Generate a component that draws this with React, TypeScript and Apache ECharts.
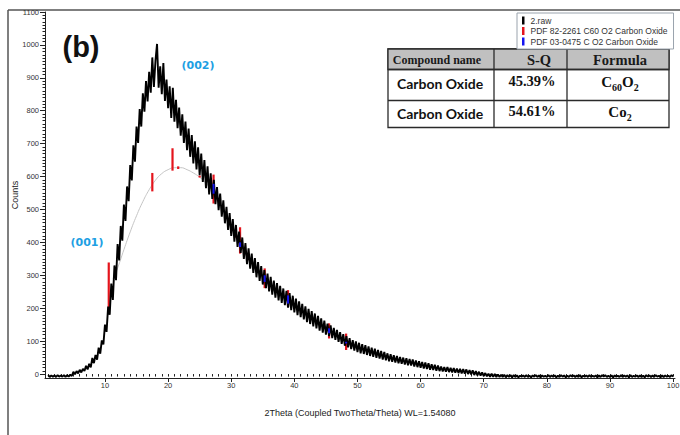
import React, { useEffect, useRef } from "react";
import * as echarts from "echarts";

// Raw XRD scan: counts sampled on a uniform 2θ grid (one row per degree)
const TWO_THETA_START = 1.0;
const TWO_THETA_STEP = 0.25;
const RAW_COUNTS = [
  -3, -9, -4, -8,
  -4, -9, -3, -8,
  -4, -8, -3, -9,
  -3, -8, -2, -6,
  7, -1, 9, 2,
  13, 5, 16, 9,
  25, 14, 31, 20,
  49, 33, 58, 44,
  80, 62, 102, 90,
  150, 128, 205, 180,
  275, 225, 330, 285,
  395, 345, 450, 405,
  515, 465, 570, 525,
  635, 588, 695, 645,
  752, 702, 805, 752,
  853, 797, 890, 828,
  918, 855, 962, 872,
  952, 1003, 870, 935,
  850, 945, 830, 895,
  808, 874, 778, 870,
  767, 833, 747, 810,
  724, 789, 702, 767,
  680, 746, 660, 726,
  640, 707, 622, 689,
  604, 670, 584, 650,
  565, 631, 546, 610,
  532, 590, 516, 568,
  498, 548, 478, 528,
  458, 508, 438, 489,
  420, 471, 402, 453,
  386, 433, 368, 415,
  350, 398, 334, 382,
  320, 366, 307, 352,
  294, 340, 283, 328,
  272, 316, 261, 305,
  251, 295, 241, 284,
  232, 276, 224, 268,
  216, 260, 209, 253,
  202, 246, 194, 238,
  187, 229, 179, 221,
  173, 213, 166, 206,
  158, 198, 152, 191,
  145, 184, 139, 177,
  132, 169, 126, 162,
  120, 153, 115, 148,
  109, 140, 104, 134,
  98, 127, 92, 121,
  86, 115, 81, 109,
  76, 103, 71, 99,
  67, 95, 63, 91,
  61, 88, 58, 84,
  55, 80, 52, 77,
  49, 73, 47, 70,
  44, 67, 42, 63,
  39, 60, 37, 57,
  35, 55, 33, 52,
  31, 50, 29, 48,
  27, 46, 26, 44,
  23, 41, 21, 39,
  19, 37, 17, 35,
  15, 33, 13, 30,
  12, 28, 10, 26,
  9, 23, 8, 21,
  7, 21, 6, 19,
  5, 18, 4, 17,
  3, 16, 2, 15,
  1, 14, 0, 12,
  -1, 11, -3, 9,
  -4, 7, -5, 5,
  -6, 3, -7, 1,
  -8, 1, -8, 0,
  -9, -1, -9, -2,
  -9, -2, -10, -3,
  -9, -3, -10, -3,
  -9, -4, -10, -5,
  -8, -4, -9, -3,
  -9, -5, -10, -4,
  -8, -3, -9, -4,
  -10, -4, -8, -5,
  -9, -3, -9, -4,
  -8, -4, -10, -5,
  -9, -3, -8, -4,
  -10, -5, -9, -3,
  -8, -4, -9, -4,
  -9, -3, -10, -5,
  -8, -4, -9, -3,
  -9, -5, -8, -4,
  -10, -4, -9, -3,
  -8, -3, -9, -5,
  -9, -4, -10, -4,
  -8, -5, -9, -3,
  -9, -4, -8, -4,
  -10, -3, -9, -5,
  -8, -4, -9, -4,
  -9, -5, -10, -3,
  -8, -4, -9, -4,
  -9, -3, -8, -5,
  -10, -4, -9, -4,
  -8, -5, -9, -3,
  -8,
];

// Fitted amorphous background hump
const BACKGROUND_2THETA = [11.3, 12, 13, 14, 15, 16, 17, 18, 19, 20, 21, 22, 23, 24, 25, 26, 27];
const BACKGROUND_COUNTS = [290, 322, 378, 432, 481, 524, 560, 589, 609, 621, 627, 627, 621, 611, 598, 580, 558];

// Reference pattern sticks: [2θ, bottom count, top count]
const PDF_82_2261 = [
  [10.6, 203, 339],
  [17.5, 555, 611],
  [20.7, 618, 686],
  [21.6, 623, 631],
  [25.0, 597, 603],
  [27.2, 518, 606],
  [28.1, 514, 522],
  [30.8, 414, 422],
  [31.4, 366, 446],
  [32.7, 346, 354],
  [35.3, 261, 321],
  [39.0, 204, 255],
  [45.5, 108, 154],
  [48.2, 73, 123],
];
const PDF_03_0475 = [
  [27.2, 548, 578],
  [31.4, 386, 400],
  [35.3, 280, 300],
  [39.0, 214, 239],
  [45.5, 124, 139],
  [48.2, 93, 98],
];

const Y_TICKS = [0, 100, 200, 300, 400, 500, 600, 700, 800, 900, 1000, 1100];
const X_TICKS = [10, 20, 30, 40, 50, 60, 70, 80, 90, 100];

const SERIES_NAMES = ["2.raw", "PDF 82-2261 C60 O2 Carbon Oxide", "PDF 03-0475 C O2 Carbon Oxide"];

const TABLE_HEADER = ["Compound name", "S-Q", "Formula"];
const TABLE_NAMES = ["Carbon Oxide", "Carbon Oxide"];
const TABLE_SQ = ["45.39%", "54.61%"];
const TABLE_FORMULAS = ["{m|C}{s|60}{m|O}{s|2}", "{m|Co}{s|2}"];

const SANS = "'Liberation Sans', Arial, sans-serif";
const SERIF = "'Liberation Serif', 'Times New Roman', serif";

const Y_MINOR: number[] = [];
for (let v = 0; v <= 1100; v += 10) Y_MINOR.push(v);
const X_MINOR: number[] = [];
for (let v = 1; v <= 100; v += 1) X_MINOR.push(v);

function stickSeries(name: string, data: number[][], color: string, width: number, z: number) {
  return {
    type: "custom",
    name,
    data,
    z,
    itemStyle: { color },
    encode: { x: 0, y: [1, 2] },
    renderItem: (_params: any, api: any) => {
      const a = api.coord([api.value(0), api.value(1)]);
      const b = api.coord([api.value(0), api.value(2)]);
      return {
        type: "line",
        shape: { x1: a[0], y1: a[1], x2: b[0], y2: b[1] },
        style: { stroke: color, lineWidth: width },
      };
    },
  };
}

function buildTable() {
  const xs = [388, 494, 567, 669];
  const ys = [49, 69.5, 100.5, 127.5];
  const border = { stroke: "#2a2a2a", lineWidth: 1.3 };
  const els: any[] = [];
  els.push({ type: "rect", shape: { x: xs[0], y: ys[0], width: xs[3] - xs[0], height: ys[3] - ys[0] }, style: { fill: "#fff", ...border } });
  els.push({ type: "rect", shape: { x: xs[0], y: ys[0], width: xs[3] - xs[0], height: ys[1] - ys[0] }, style: { fill: "#c0c0c0", ...border } });
  for (const y of [ys[1], ys[2]]) {
    els.push({ type: "line", shape: { x1: xs[0], y1: y, x2: xs[3], y2: y }, style: border });
  }
  for (const x of [xs[1], xs[2]]) {
    els.push({ type: "line", shape: { x1: x, y1: ys[0], x2: x, y2: ys[3] }, style: border });
  }
  const headX = [437, 539, 620];
  const headSize = [12, 14.5, 14.5];
  TABLE_HEADER.forEach((t, i) => {
    els.push({
      type: "text",
      x: headX[i],
      y: 59.5,
      style: { text: t, fontFamily: SERIF, fontWeight: "bold", fontSize: headSize[i], fill: "#1a1a1a", align: "center", verticalAlign: "middle" },
    });
  });
  const rowY = [82.5, 112.5];
  rowY.forEach((y, r) => {
    els.push({
      type: "text",
      x: 440,
      y: y + 0.5,
      style: { text: TABLE_NAMES[r], fontFamily: "Lato, sans-serif", fontWeight: "bold", fontSize: 14, fill: "#111", align: "center", verticalAlign: "middle" },
    });
    els.push({
      type: "text",
      x: 532,
      y: y - 2,
      style: { text: TABLE_SQ[r], fontFamily: SERIF, fontWeight: "bold", fontSize: 14.5, fill: "#111", align: "center", verticalAlign: "middle" },
    });
    els.push({
      type: "text",
      x: 620,
      y: y,
      style: {
        text: TABLE_FORMULAS[r],
        align: "center",
        verticalAlign: "middle",
        fill: "#111",
        rich: {
          m: { fontFamily: SERIF, fontWeight: "bold", fontSize: 15, lineHeight: 16, verticalAlign: "top", fill: "#111" },
          s: { fontFamily: SERIF, fontWeight: "bold", fontSize: 10, lineHeight: 10, padding: [8, 0, 0, 0], verticalAlign: "top", fill: "#111" },
        },
      },
    });
  });
  return { type: "group", z: 100, children: els };
}

export default function App() {
  const ref = useRef<HTMLDivElement>(null);

  useEffect(() => {
    if (!ref.current) return;
    const chart = echarts.init(ref.current, undefined, { renderer: "svg" });
    const raw = RAW_COUNTS.map((c, i) => [TWO_THETA_START + i * TWO_THETA_STEP, c]);
    const background = BACKGROUND_2THETA.map((x, i) => [x, BACKGROUND_COUNTS[i]]);
    const axisColor = "#222";
    const plainNumber = (v: number) => String(v);

    chart.setOption({
      animation: false,
      backgroundColor: "#fff",
      grid: { left: 45, right: 5, top: 12, bottom: 57, outerBoundsMode: "none", containLabel: false },
      legend: {
        left: 517,
        top: 13,
        orient: "vertical",
        icon: "rect",
        itemWidth: 2.5,
        itemHeight: 8,
        itemGap: 1.5,
        padding: [3, 6, 3, 5],
        backgroundColor: "#fff",
        borderColor: "#9aa3ad",
        borderWidth: 1,
        textStyle: { fontSize: 8.5, color: "#333", fontFamily: SANS, padding: [0, 0, 0, 1] },
        data: SERIES_NAMES,
        selectedMode: false,
      },
      xAxis: [
        {
          type: "value",
          min: 0.5,
          max: 100.3,
          name: "2Theta (Coupled TwoTheta/Theta) WL=1.54080",
          nameLocation: "middle",
          nameGap: 30,
          nameMoveOverlap: false,
          nameTextStyle: { fontSize: 9, color: "#222", fontFamily: SANS },
          axisLine: { show: true, onZero: false, lineStyle: { color: axisColor, width: 1 } },
          axisTick: { show: true, length: 4, customValues: X_TICKS, lineStyle: { color: axisColor } },
          axisLabel: { customValues: X_TICKS, formatter: plainNumber, fontSize: 7.5, color: "#333", fontFamily: SANS, margin: 3 },
          splitLine: { show: false },
        },
        {
          type: "value",
          min: 0.5,
          max: 100.3,
          position: "bottom",
          axisLine: { show: false },
          axisTick: { show: true, length: 2.5, customValues: X_MINOR, lineStyle: { color: axisColor } },
          axisLabel: { show: false },
          splitLine: { show: false },
        },
      ],
      yAxis: [
        {
          type: "value",
          min: -12,
          max: 1100,
          name: "Counts",
          nameLocation: "middle",
          nameGap: 26,
          nameMoveOverlap: false,
          nameTextStyle: { fontSize: 9, color: "#222", fontFamily: SANS },
          axisLine: { show: true, onZero: false, lineStyle: { color: axisColor, width: 1 } },
          axisTick: { show: true, length: 5, customValues: Y_TICKS, lineStyle: { color: axisColor } },
          axisLabel: { customValues: Y_TICKS, formatter: plainNumber, fontSize: 7.5, color: "#333", fontFamily: SANS, margin: 6 },
          splitLine: { show: false },
        },
        {
          type: "value",
          min: -12,
          max: 1100,
          position: "left",
          axisLine: { show: false },
          axisTick: { show: true, length: 2.5, customValues: Y_MINOR, lineStyle: { color: axisColor } },
          axisLabel: { show: false },
          splitLine: { show: false },
        },
      ],
      series: [
        {
          type: "line",
          name: "background",
          data: background,
          smooth: true,
          showSymbol: false,
          z: 1,
          lineStyle: { color: "#c4c4c4", width: 1 },
        },
        stickSeries(SERIES_NAMES[1], PDF_82_2261, "#e4141c", 2.2, 2),
        {
          type: "line",
          name: SERIES_NAMES[0],
          data: raw,
          showSymbol: false,
          z: 3,
          itemStyle: { color: "#000" },
          lineStyle: { color: "#000", width: 1.9 },
        },
        stickSeries(SERIES_NAMES[2], PDF_03_0475, "#1414f0", 2, 4),
      ],
      graphic: [
        { type: "line", shape: { x1: 8, y1: 10, x2: 680, y2: 10 }, style: { stroke: "#555", lineWidth: 1.5 } },
        { type: "line", shape: { x1: 8, y1: 10, x2: 8, y2: 435 }, style: { stroke: "#555", lineWidth: 1.5 } },
        {
          type: "text",
          x: 81,
          y: 47,
          style: { text: "(b)", fontFamily: SANS, fontWeight: "bold", fontSize: 29, fill: "#111", align: "center", verticalAlign: "middle" },
        },
        {
          type: "text",
          x: 198,
          y: 65,
          style: { text: "(002)", fontFamily: "'DejaVu Sans', sans-serif", fontWeight: "bold", fontSize: 11, fill: "#1e9fe3", align: "center", verticalAlign: "middle" },
        },
        {
          type: "text",
          x: 87,
          y: 242,
          style: { text: "(001)", fontFamily: "'DejaVu Sans', sans-serif", fontWeight: "bold", fontSize: 11, fill: "#1e9fe3", align: "center", verticalAlign: "middle" },
        },
        buildTable(),
      ],
    });

    return () => chart.dispose();
  }, []);

  return <div ref={ref} style={{ position: "fixed", left: 0, top: 0, width: 680, height: 435 }} />;
}
